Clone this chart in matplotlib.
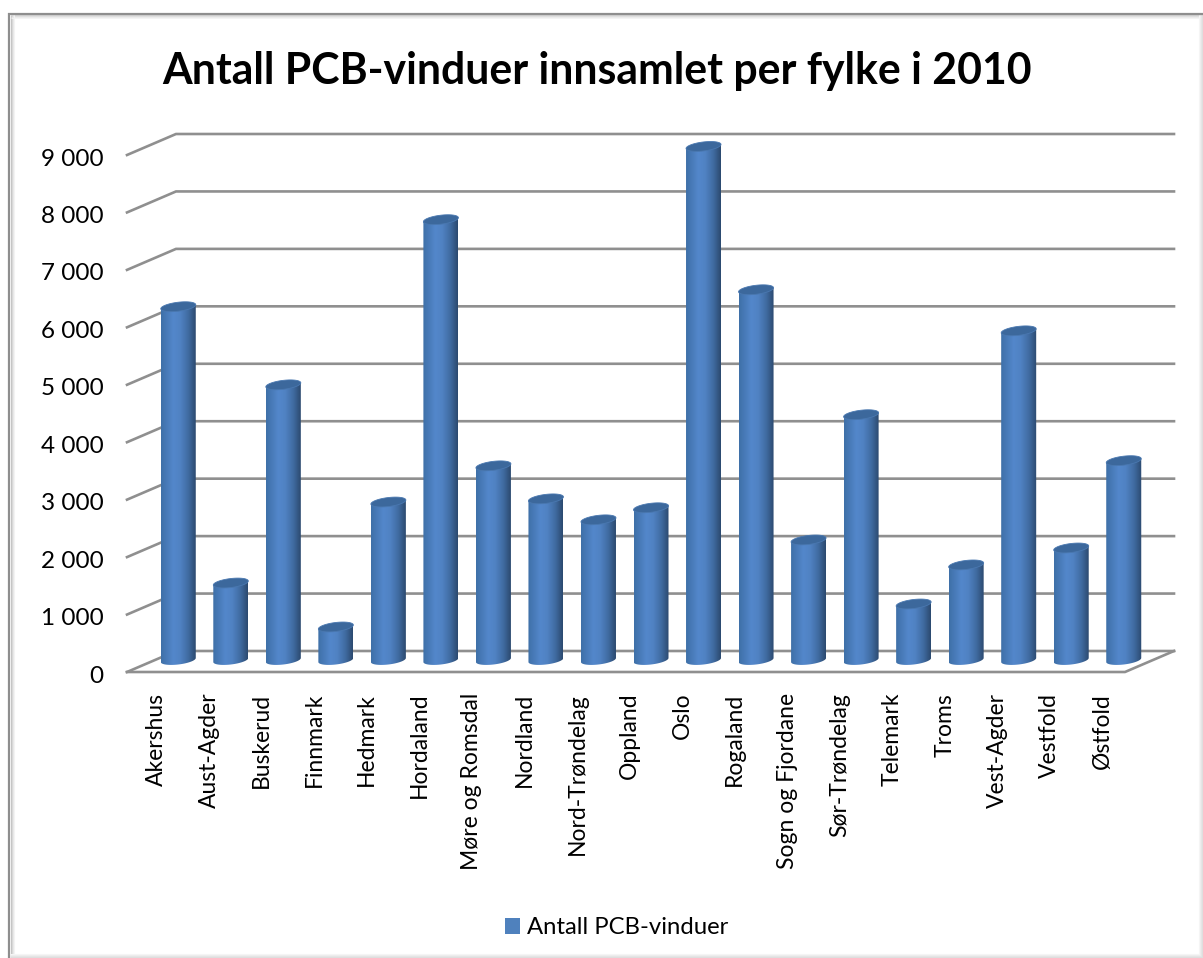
import numpy as np
import matplotlib
matplotlib.use("Agg")
import matplotlib.pyplot as plt
from matplotlib.colors import LinearSegmentedColormap
from matplotlib.lines import Line2D
from matplotlib.patches import Patch, Polygon
from matplotlib.transforms import ScaledTranslation

fylker = ["Akershus", "Aust-Agder", "Buskerud", "Finnmark", "Hedmark", "Hordaland",
          "Møre og Romsdal", "Nordland", "Nord-Trøndelag", "Oppland", "Oslo", "Rogaland",
          "Sogn og Fjordane", "Sør-Trøndelag", "Telemark", "Troms", "Vest-Agder",
          "Vestfold", "Østfold"]
vinduer = [6150, 1340, 4790, 575, 2750, 7665, 3380, 2805, 2440, 2650, 8940, 6445,
           2090, 4270, 975, 1655, 5730, 1950, 3470]
yticks = [0, 1000, 2000, 3000, 4000, 5000, 6000, 7000, 8000, 9000]
ylabels = ["0", "1 000", "2 000", "3 000", "4 000", "5 000", "6 000", "7 000", "8 000", "9 000"]

W, H = 1203, 958
plt.rcParams["font.family"] = ["Lato", "DejaVu Sans"]
fig = plt.figure(figsize=(W / 100, H / 100), dpi=100, facecolor="white")

# front edge of the floor: x 127-1125 px, value 0 at y=672 px, 9000 at y=155 px
ax = fig.add_axes([127 / W, 1 - 672 / H, 998 / W, 517 / H])
ax.set_xlim(-0.5, len(fylker) - 0.5)
ax.set_ylim(0, 9000)

# 3D depth in data units
per_px_x = len(fylker) / 998
per_px_y = 9000 / 517
dx, dy = 49 * per_px_x, 21 * per_px_y
x0, x1 = -0.5, len(fylker) - 0.5

grid = "#8f8f8f"
for v in yticks:
    ax.plot([x0, x0 + dx, x1 + dx], [v, v + dy, v + dy], color=grid, lw=1.9,
            clip_on=False, zorder=1, solid_joinstyle="miter")
ax.plot([x0, x1, x1 + dx], [0, 0, dy], color=grid, lw=1.9, clip_on=False, zorder=1)

# cylinders
cyl = LinearSegmentedColormap.from_list(
    "cyl", [(0, "#3f70a8"), (0.35, "#5387cb"), (0.55, "#5082c3"),
            (0.8, "#3f6a9f"), (1, "#2c4a70")])
grad = np.linspace(0, 1, 64).reshape(1, -1)
a = 17.5 * per_px_x
b = 4.5 * per_px_y
s = 2 * per_px_y
shift_x = 25 * per_px_x
base = 12 * per_px_y
t = np.linspace(0, 2 * np.pi, 80)

for i, v in enumerate(vinduer):
    cx = i + shift_x
    ex = cx + a * np.cos(t)
    top_y = v + base + b * np.sin(t) + s * np.cos(t)
    low = t[t >= np.pi]
    side = np.column_stack([
        np.r_[cx + a * np.cos(low), cx + a, cx - a],
        np.r_[base + b * np.sin(low) + s * np.cos(low), v + base + s, v + base - s],
    ])
    im = ax.imshow(grad, cmap=cyl, aspect="auto", zorder=3 + i * 0.01,
                   extent=(cx - a, cx + a, 0, v + 2 * base))
    im.set_clip_path(Polygon(side, closed=True, transform=ax.transData))
    im.set_clip_box(fig.bbox)
    ax.add_patch(Polygon(np.column_stack([ex, top_y]), closed=True, facecolor="#3c689c",
                         edgecolor="#4a78b0", lw=0.6, zorder=3.5 + i * 0.01, clip_on=False))

ax.set_xlim(-0.5, len(fylker) - 0.5)
ax.set_ylim(0, 9000)

for sp in ax.spines.values():
    sp.set_visible(False)
ax.patch.set_visible(False)
ax.set_yticks(yticks)
ax.set_yticklabels(ylabels, fontsize=17.5, color="black")
ax.set_xticks(range(len(fylker)))
ax.set_xticklabels(fylker, rotation=90, fontsize=16.5, color="black")
ax.tick_params(axis="both", length=0)
ax.tick_params(axis="y", pad=17)
ax.tick_params(axis="x", pad=15)
for lab in ax.get_xticklabels():
    lab.set_transform(lab.get_transform() + ScaledTranslation(2.5 / 72, 0, fig.dpi_scale_trans))
for lab in ax.get_yticklabels():
    lab.set_transform(lab.get_transform() + ScaledTranslation(0, -1.5 / 72, fig.dpi_scale_trans))

fig.text(597 / W, 1 - 71 / H, "Antall PCB-vinduer innsamlet per fylke i 2010", ha="center",
         va="center", fontsize=30.8, fontweight="bold", color="black")

fig.legend(handles=[Patch(facecolor="#4f81bd", label="Antall PCB-vinduer")],
           loc="center", bbox_to_anchor=(616.5 / W, 1 - 928 / H), frameon=False, fontsize=17.2,
           handlelength=0.63, handleheight=0.63, handletextpad=0.3)

# outer frame with its soft shadow
def frame(xs, ys, color, lw):
    fig.add_artist(Line2D(np.array(xs) / W, 1 - np.array(ys) / H, color=color, lw=lw,
                          transform=fig.transFigure, solid_capstyle="butt"))

frame([8.5, 8.5], [13, 958], "#8e8e8e", 1.6)
frame([8, W], [13.5, 13.5], "#8e8e8e", 1.6)
for k, c in enumerate(["#c4c4c4", "#d8d8d8", "#e8e8e8", "#f3f3f3"]):
    frame([11 + k, 11 + k], [15, 958], c, 0.8)
    frame([11, W], [15 + k, 15 + k], c, 0.6)
for k, c in enumerate(["#f6f6f6", "#eeeeee", "#e6e6e6", "#dedede"]):
    frame([1199 + k, 1199 + k], [15, 958], c, 0.8)
    frame([10, W], [954 + k, 954 + k], c, 0.8)

fig.savefig("out.png", dpi=100, facecolor="white")
